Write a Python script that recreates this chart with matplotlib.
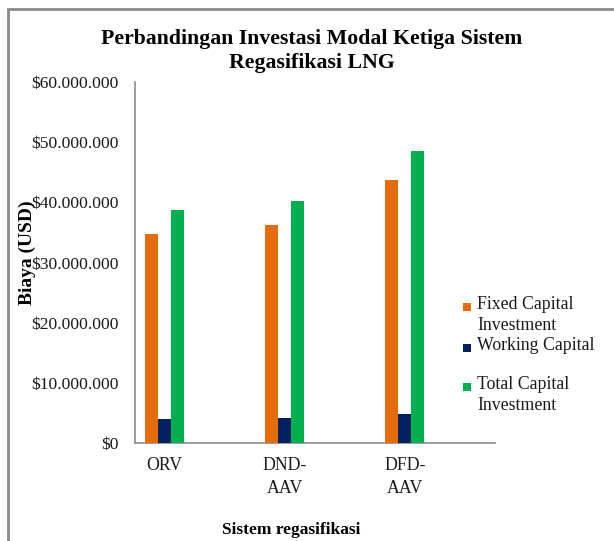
import numpy as np
import matplotlib
matplotlib.use("Agg")
import matplotlib.pyplot as plt
from matplotlib.patches import Rectangle
from matplotlib.ticker import FuncFormatter

# data
SYSTEMS = ["ORV", "DND-\nAAV", "DFD-\nAAV"]
SERIES = ["Fixed Capital\nInvestment", "Working Capital", "Total Capital\nInvestment"]
FIXED_CAPITAL = [34.7e6, 36.3e6, 43.7e6]
WORKING_CAPITAL = [4.0e6, 4.15e6, 4.9e6]
TOTAL_CAPITAL = [38.7e6, 40.2e6, 48.5e6]
Y_TICKS = [0, 10e6, 20e6, 30e6, 40e6, 50e6, 60e6]

COLORS = ["#E46C0A", "#002060", "#00B050"]
plt.rcParams["font.family"] = ["Liberation Serif", "DejaVu Serif"]

W, H = 614, 541
fig = plt.figure(figsize=(W / 100, H / 100), dpi=100)
fig.patch.set_facecolor("white")

# outer chart border (extends past right/bottom of the image)
fig.patches.append(Rectangle((8 / W, -0.2), 2.0, 1.2 - 9 / H,
                             transform=fig.transFigure, fill=False,
                             edgecolor="#8a8a8a", lw=2.0, zorder=0))

ax = fig.add_axes([135 / W, 1 - 443 / H, 360 / W, 361 / H])

x = np.arange(len(SYSTEMS))
bw = 0.108
for k, vals in enumerate([FIXED_CAPITAL, WORKING_CAPITAL, TOTAL_CAPITAL]):
    ax.bar(x + (k - 1) * bw, vals, width=bw, color=COLORS[k],
           edgecolor="none", zorder=3)

ax.set_xlim(-0.245, 2.75)
ax.set_ylim(0, 60e6)
ax.set_yticks(Y_TICKS)
ax.yaxis.set_major_formatter(FuncFormatter(
    lambda v, p: "$" + f"{int(v):,}".replace(",", ".")))
ax.set_xticks(x)
ax.set_xticklabels(SYSTEMS, fontsize=12.8, linespacing=1.5, va="top")
ax.tick_params(axis="y", length=0, pad=12, labelsize=12.6, colors="#1a1a1a")
ax.tick_params(axis="x", length=0, pad=10, colors="#1a1a1a")

for s in ("top", "right"):
    ax.spines[s].set_visible(False)
for s in ("left", "bottom"):
    ax.spines[s].set_color("#8c8c8c")
    ax.spines[s].set_linewidth(1.2)

# the reference lets this label sit over the tick labels
ax.set_ylabel("Biaya (USD)", fontsize=14, fontweight="bold")
ax.yaxis.set_label_coords((36 - 135) / 360, (443 - 253) / 361)
ax.set_xlabel("Sistem regasifikasi", fontsize=12.5, fontweight="bold")
ax.xaxis.set_label_coords((291 - 135) / 360, -(522 - 443) / 361)

fig.text(312 / W, 1 - 51 / H,
         "Perbandingan Investasi Modal Ketiga Sistem\nRegasifikasi LNG",
         ha="center", va="center", fontsize=15.7, fontweight="bold",
         linespacing=1.3)

# legend
LEG_Y = [307, 348, 387]
for k, (lab, yy) in enumerate(zip(SERIES, LEG_Y)):
    fig.patches.append(Rectangle((463 / W, 1 - (yy + 4) / H), 8 / W, 8 / H,
                                 transform=fig.transFigure,
                                 facecolor=COLORS[k], edgecolor="none"))
    fig.text(477 / W, 1 - (yy - 11) / H, lab, ha="left", va="top",
             fontsize=12.8, linespacing=1.3, color="#1a1a1a")

fig.savefig("out.png", dpi=100, facecolor="white")
